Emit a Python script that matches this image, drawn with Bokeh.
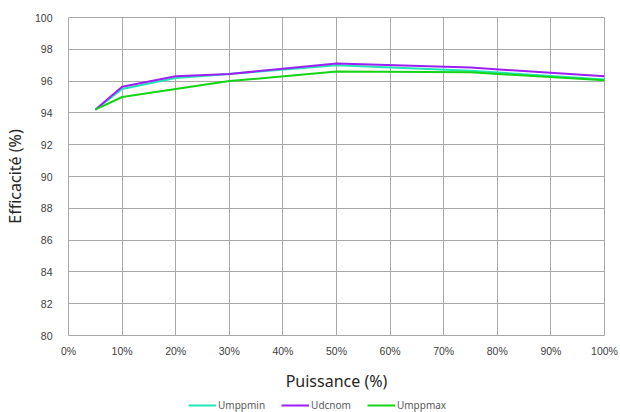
from bokeh.plotting import figure
from bokeh.layouts import column
from bokeh.models import FixedTicker, Legend, LegendItem, Range1d
from bokeh.embed import file_html
from bokeh.resources import INLINE

# Data
puissance = [5, 10, 20, 30, 50, 75, 100]
umppmin = [94.2, 95.5, 96.2, 96.45, 97.0, 96.65, 96.1]
udcnom = [94.2, 95.65, 96.3, 96.45, 97.1, 96.85, 96.3]
umppmax = [94.2, 95.0, 95.5, 96.0, 96.6, 96.55, 96.05]

x_ticks = [0, 10, 20, 30, 40, 50, 60, 70, 80, 90, 100]
x_tick_labels = ["0%", "10%", "20%", "30%", "40%", "50%", "60%", "70%", "80%", "90%", "100%"]
y_ticks = [80, 82, 84, 86, 88, 90, 92, 94, 96, 98, 100]

series_names = ["Umppmin", "Udcnom", "Umppmax"]
series_colors = ["#1ee8b4", "#9d1ff5", "#14d414"]

p = figure(width=620, height=396, output_backend="svg", toolbar_location=None,
           x_range=Range1d(0, 100), y_range=Range1d(80, 100),
           min_border_left=68, min_border_right=16, min_border_top=17, min_border_bottom=61)

for name, ys, col in zip(series_names, [umppmin, udcnom, umppmax], series_colors):
    p.line(puissance, ys, line_color=col, line_width=2)

grid_col = "#a8a8a8"
p.xgrid.grid_line_color = grid_col
p.ygrid.grid_line_color = grid_col
p.outline_line_color = grid_col
p.background_fill_color = "white"
p.border_fill_color = "white"

p.xaxis.ticker = FixedTicker(ticks=x_ticks)
p.xaxis.major_label_overrides = {t: l for t, l in zip(x_ticks, x_tick_labels)}
p.yaxis.ticker = FixedTicker(ticks=y_ticks)
p.xgrid.ticker = FixedTicker(ticks=x_ticks)
p.ygrid.ticker = FixedTicker(ticks=y_ticks)

for ax in (p.xaxis, p.yaxis):
    ax.axis_line_color = None
    ax.major_tick_line_color = None
    ax.minor_tick_line_color = None
    ax.major_label_text_font = "Liberation Sans"
    ax.major_label_text_font_size = "10.5px"
    ax.major_label_text_color = "#404040"
    ax.axis_label_text_font = "Noto Sans"
    ax.axis_label_text_font_size = "16px"
    ax.axis_label_text_font_style = "normal"
    ax.axis_label_text_color = "#262626"

p.xaxis.axis_label = "Puissance (%)"
p.yaxis.axis_label = "Efficacité (%)"
p.xaxis.major_label_standoff = 3
p.xaxis.axis_label_standoff = 10
p.yaxis.major_label_standoff = 10
p.yaxis.axis_label_standoff = 6

# Legend strip below the chart
lg = figure(width=620, height=16, output_backend="svg", toolbar_location=None,
            x_axis_type=None, y_axis_type=None, min_border=0,
            x_range=Range1d(0, 1), y_range=Range1d(0, 1))
lg.outline_line_color = None
lg.xgrid.visible = False
lg.ygrid.visible = False
items = []
for name, col in zip(series_names, series_colors):
    r = lg.line([-5, -4], [-5, -4], line_color=col, line_width=2)
    items.append(LegendItem(label=name, renderers=[r]))
legend = Legend(items=items, orientation="horizontal", location=(120, 0),
                label_text_font="Noto Sans", label_text_font_size="10px",
                label_text_color="#595959", glyph_width=28, glyph_height=10,
                label_height=12, label_standoff=2, spacing=16, padding=1, margin=0,
                border_line_color=None, background_fill_alpha=0)
lg.add_layout(legend, "center")

layout = column(p, lg, spacing=0)
open("out.html", "w").write(file_html(layout, INLINE))
